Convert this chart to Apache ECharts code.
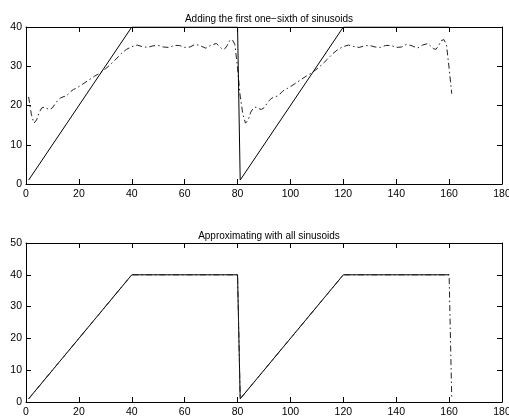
<!DOCTYPE html>
<html>
<head>
<meta charset="utf-8">
<script src="https://cdn.jsdelivr.net/npm/echarts@6/dist/echarts.min.js"></script>
<style>html,body{margin:0;padding:0;background:#fff}#c{width:509px;height:417px}</style>
</head>
<body>
<div id="c"></div>
<script>
// Original trapezoid signal
var signalX = [1, 40, 80, 81, 120, 160];
var signalY = [1, 40, 40, 1, 40, 40];

// Partial-sum approximation (first one-sixth of sinusoids)
var approxX = [1,2,3,4,5,6,7,8,9,10,11,12,13,14,15,16,17,18,19,20,22,24,26,28,30,32,34,36,38,40,42,44,46,48,50,52,54,56,58,60,62,64,66,68,70,72,74,75,76,77,78,79,80,
               81,82,83,84,85,86,87,88,89,90,91,92,93,94,95,96,97,98,99,100,102,104,106,108,110,112,114,116,118,120,122,124,126,128,130,132,134,136,138,140,142,144,146,148,150,152,154,155,156,157,158,159,160,161];
var approxY = [22.2,17.8,15.5,16.3,18.3,19.4,19.6,19.2,19.0,19.4,20.4,21.3,21.9,22.2,22.4,22.9,23.6,24.1,24.4,24.8,25.7,26.6,27.5,28.3,29.3,30.5,31.8,33.2,34.3,35.0,35.4,35.0,34.8,35.2,35.3,34.9,34.8,35.3,35.3,34.8,34.9,35.6,35.2,34.6,35.4,35.8,34.5,34.3,35.2,36.5,36.8,35.5,29.5,
               22.4,17.8,15.5,16.3,18.3,19.4,19.6,19.2,19.0,19.4,20.4,21.3,21.9,22.2,22.4,22.9,23.6,24.1,24.4,24.8,25.7,26.6,27.5,28.3,29.3,30.5,31.8,33.2,34.3,35.0,35.4,35.0,34.8,35.2,35.3,34.9,34.8,35.3,35.3,34.8,34.9,35.6,35.2,34.6,35.4,35.8,34.5,34.3,35.2,36.5,36.8,35.5,29.5,23.0];

// Full reconstruction (all sinusoids)
var reconX = [1, 40, 80, 81, 120, 160, 161];
var reconY = [1, 40, 40, 1, 40, 40, 1];

var titles = ['Adding the first one\u2212sixth of sinusoids', 'Approximating with all sinusoids'];
var xTicks = [0, 180, 20];
var yTop = [0, 40, 10];
var yBot = [0, 50, 10];

function pairs(xs, ys) { return xs.map(function (x, i) { return [x, ys[i]]; }); }

var FONT = 'Liberation Sans, Arial, sans-serif';
var axisLine = { show: true, onZero: false, lineStyle: { color: '#000', width: 1 } };

function xAx(gi, pos, labels) {
  return {
    type: 'value', gridIndex: gi, position: pos, min: xTicks[0], max: xTicks[1], interval: xTicks[2],
    axisLine: axisLine,
    axisTick: { show: true, inside: true, length: 5, lineStyle: { color: '#000' } },
    axisLabel: { show: labels, color: '#000', fontSize: 10.5, fontFamily: FONT, margin: 5, hideOverlap: false },
    splitLine: { show: false }
  };
}
function yAx(gi, pos, labels, r) {
  return {
    type: 'value', gridIndex: gi, position: pos, min: r[0], max: r[1], interval: r[2],
    axisLine: axisLine,
    axisTick: { show: true, inside: true, length: 5, lineStyle: { color: '#000' } },
    axisLabel: { show: labels, color: '#000', fontSize: 10.5, fontFamily: FONT, margin: 4 },
    splitLine: { show: false }
  };
}

var solid = { color: '#000', width: 1, type: 'solid' };
var dashdot = { color: '#222', width: 1, type: [6, 3, 1.5, 3] };

var chart = echarts.init(document.getElementById('c'), null, { renderer: 'canvas' });
chart.setOption({
  animation: false,
  backgroundColor: '#fff',
  title: [
    { text: titles[0], left: 264, top: 9, textAlign: 'center', textStyle: { fontSize: 10, fontWeight: 'normal', color: '#000', fontFamily: FONT } },
    { text: titles[1], left: 264, top: 226, textAlign: 'center', textStyle: { fontSize: 10, fontWeight: 'normal', color: '#000', fontFamily: FONT } }
  ],
  grid: [
    { left: 26, right: 7, top: 27, height: 157, containLabel: false, outerBoundsMode: 'none' },
    { left: 26, right: 7, top: 243, height: 159, containLabel: false, outerBoundsMode: 'none' }
  ],
  xAxis: [xAx(0, 'bottom', true), xAx(0, 'top', false), xAx(1, 'bottom', true), xAx(1, 'top', false)],
  yAxis: [yAx(0, 'left', true, yTop), yAx(0, 'right', false, yTop), yAx(1, 'left', true, yBot), yAx(1, 'right', false, yBot)],
  series: [
    { type: 'line', xAxisIndex: 0, yAxisIndex: 0, data: pairs(approxX, approxY), showSymbol: false, lineStyle: dashdot },
    { type: 'line', xAxisIndex: 0, yAxisIndex: 0, data: pairs(signalX, signalY), showSymbol: false, lineStyle: solid },
    { type: 'line', xAxisIndex: 2, yAxisIndex: 2, data: pairs(signalX, signalY), showSymbol: false, lineStyle: solid },
    { type: 'line', xAxisIndex: 2, yAxisIndex: 2, data: pairs(reconX, reconY), showSymbol: false, lineStyle: dashdot }
  ]
});
</script>
</body>
</html>
